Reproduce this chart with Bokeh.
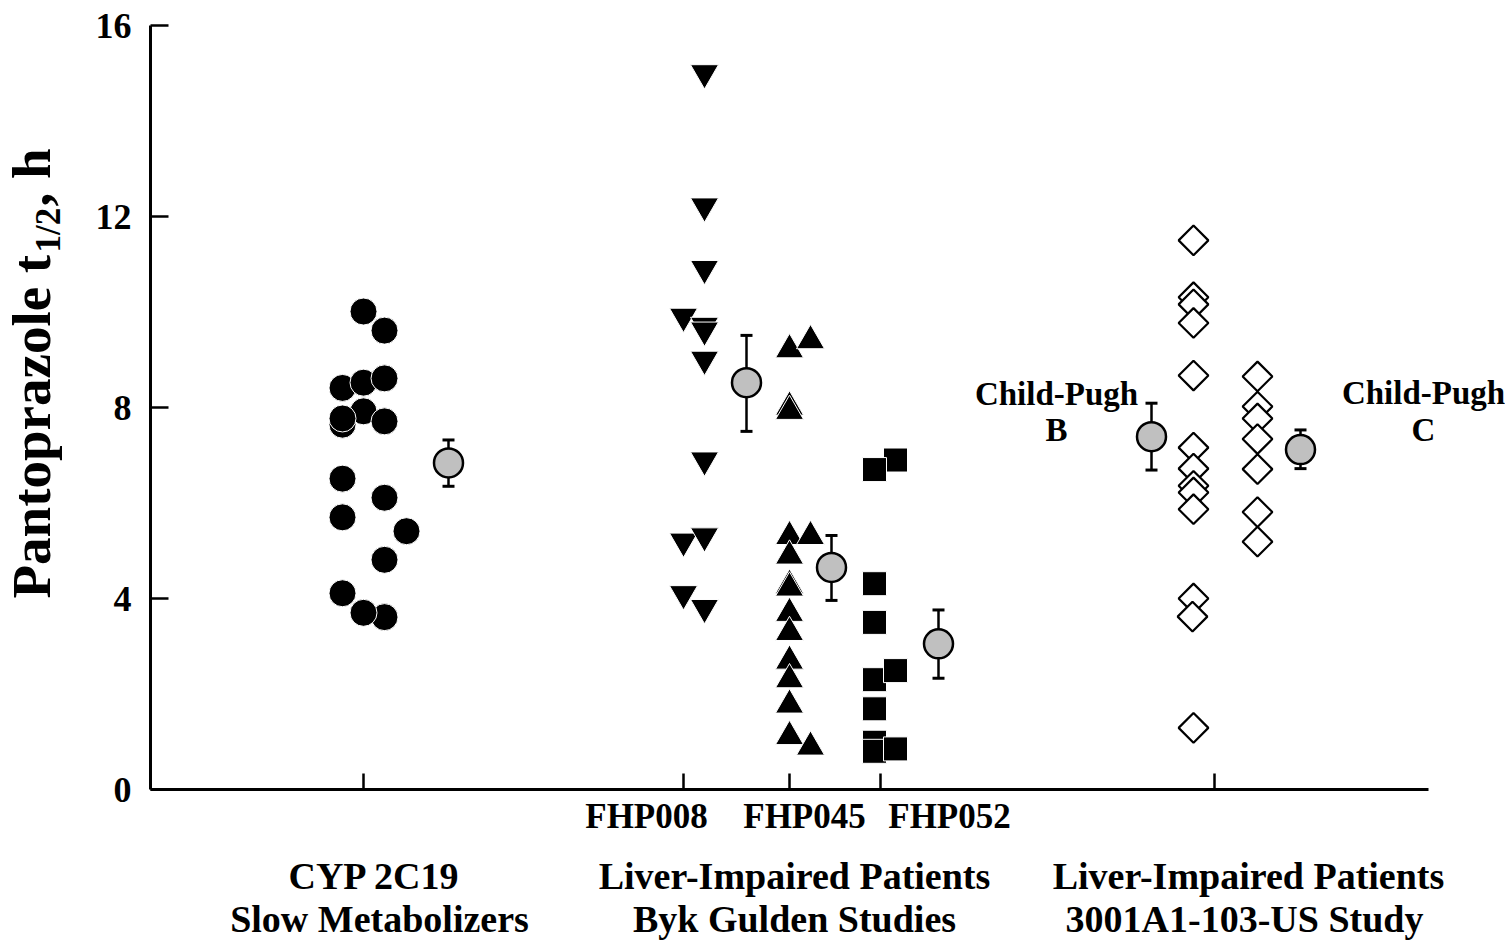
import numpy as np
from bokeh.plotting import figure
from bokeh.models import Range1d, FixedTicker, Label, LinearAxis
from bokeh.embed import file_html
from bokeh.resources import INLINE

FONT = "Liberation Serif"

# ---------------- data ----------------
y_ticks = [0, 4, 8, 12, 16]
group_ticks = [2.13, 5.33, 6.39, 7.30, 10.64]

# CYP 2C19 slow metabolizers (filled circles)
cyp_x = [2.13, 2.34, 1.92, 2.13, 2.34, 2.13, 1.92, 1.92, 2.34, 1.92, 2.34, 1.92, 2.56, 2.34, 1.92, 2.34, 2.13]
cyp_y = [10.01, 9.61, 8.41, 8.52, 8.61, 7.92, 7.64, 7.77, 7.71, 6.51, 6.11, 5.70, 5.41, 4.81, 4.11, 3.61, 3.70]

# FHP008 (filled down triangles)
fhp008_x = [5.54, 5.54, 5.54, 5.33, 5.54, 5.54, 5.54, 5.54, 5.33, 5.54, 5.33, 5.54]
fhp008_y = [15.01, 12.22, 10.91, 9.91, 9.72, 9.62, 9.01, 6.90, 5.20, 5.31, 4.10, 3.81]

# FHP045 (filled up triangles)
fhp045_x = [6.39, 6.60, 6.39, 6.39, 6.39, 6.60, 6.39, 6.39, 6.39, 6.39, 6.39, 6.39, 6.39, 6.39, 6.39, 6.60]
fhp045_y = [9.21, 9.40, 8.01, 7.92, 5.30, 5.30, 4.89, 4.28, 4.22, 3.69, 3.29, 2.69, 2.30, 1.77, 1.11, 0.89]

# FHP052 (filled squares)
fhp052_x = [7.45, 7.24, 7.24, 7.24, 7.24, 7.45, 7.24, 7.24, 7.24, 7.45]
fhp052_y = [6.90, 6.70, 4.31, 3.50, 2.30, 2.49, 1.69, 0.99, 0.80, 0.85]

# 3001A1-103-US, Child-Pugh B (open diamonds)
cpb_x = [10.43, 10.43, 10.43, 10.43, 10.43, 10.43, 10.43, 10.43, 10.43, 10.43, 10.43, 10.42, 10.43]
cpb_y = [11.50, 10.31, 10.16, 9.77, 8.67, 7.16, 6.72, 6.36, 6.22, 5.87, 4.00, 3.62, 1.29]

# 3001A1-103-US, Child-Pugh C (open diamonds)
cpc_x = [11.07, 11.07, 11.07, 11.07, 11.07, 11.07, 11.07]
cpc_y = [8.65, 8.02, 7.77, 7.34, 6.71, 5.81, 5.19]

# group means with error bars (grey circles)
mean_x = [2.98, 5.96, 6.81, 7.88, 10.01, 11.50]
mean_y = [6.84, 8.52, 4.65, 3.05, 7.39, 7.12]
mean_lo = [6.35, 7.50, 3.96, 2.33, 6.69, 6.72]
mean_hi = [7.32, 9.51, 5.32, 3.76, 8.09, 7.53]

fhp_labels = ["FHP008", "FHP045", "FHP052"]
cat_line1 = ["CYP 2C19", "Liver-Impaired Patients", "Liver-Impaired Patients"]
cat_line2 = ["Slow Metabolizers", "Byk Gulden Studies", "3001A1-103-US Study"]

# ---------------- figure ----------------
W, H = 1505, 940
PX_X = 100.0     # pixels per x unit
PX_Y = 47.75     # pixels per y unit
X0_PX, Y0_PX = 150, 789   # where the axes cross

p = figure(width=W, height=H, output_backend="svg", toolbar_location=None,
           x_axis_location=None, y_axis_location=None,
           x_range=Range1d(-X0_PX / PX_X, (W - X0_PX) / PX_X),
           y_range=Range1d((Y0_PX - H) / PX_Y, Y0_PX / PX_Y),
           min_border=0)
p.outline_line_color = None
p.grid.visible = False
p.background_fill_color = "white"
p.border_fill_color = "white"

yaxis = LinearAxis(fixed_location=0, bounds=(0, 16), ticker=FixedTicker(ticks=y_ticks),
                   axis_line_width=3, axis_line_color="black",
                   major_tick_in=18, major_tick_out=0, major_tick_line_width=2.5,
                   minor_tick_line_color=None, major_label_standoff=19,
                   major_label_text_font=FONT, major_label_text_font_style="bold",
                   major_label_text_font_size="36px", major_label_text_color="black")
p.add_layout(yaxis, "left")

xaxis = LinearAxis(fixed_location=0, bounds=(0, 12.78), ticker=FixedTicker(ticks=group_ticks),
                   major_label_overrides={t: "" for t in group_ticks},
                   axis_line_width=3, axis_line_color="black",
                   major_tick_in=16, major_tick_out=0, major_tick_line_width=2.5,
                   minor_tick_line_color=None, major_label_text_font_size="1px")
p.add_layout(xaxis, "below")

# points
p.scatter(cyp_x, cyp_y, marker="circle", size=27, fill_color="black", line_color="white", line_width=1)
p.scatter(fhp008_x, fhp008_y, marker="inverted_triangle", size=28, fill_color="black", line_color="white", line_width=1)
p.scatter(fhp045_x, fhp045_y, marker="triangle", size=28, fill_color="black", line_color="white", line_width=1)
p.scatter(fhp052_x, fhp052_y, marker="square", size=24, fill_color="black", line_color="white", line_width=1)
p.scatter(cpb_x, cpb_y, marker="square", angle=np.pi / 4, size=21, fill_color="white", line_color="black", line_width=2.2)
p.scatter(cpc_x, cpc_y, marker="square", angle=np.pi / 4, size=21, fill_color="white", line_color="black", line_width=2.2)

# means and error bars
p.segment(x0=mean_x, y0=mean_lo, x1=mean_x, y1=mean_hi, line_color="black", line_width=2.5)
p.scatter(mean_x, mean_lo, marker="dash", size=12, line_color="black", line_width=3)
p.scatter(mean_x, mean_hi, marker="dash", size=12, line_color="black", line_width=3)
p.scatter(mean_x, mean_y, marker="circle", size=29, fill_color="#c0c0c0", line_color="black", line_width=2.5)


def dx(px):
    return (px - X0_PX) / PX_X


def dy(py):
    return (Y0_PX - py) / PX_Y


BASE_FIX = 0.33  # Bokeh places the alphabetic baseline this many ems lower


def lab(px, py, text, size, align="center", vertical=False):
    fix = BASE_FIX * size
    if vertical:
        x, y, ang = dx(px - fix), dy(py), np.pi / 2
    else:
        x, y, ang = dx(px), dy(py - fix), 0.0
    p.add_layout(Label(x=x, y=y, text=text, text_font=FONT, text_font_style="bold",
                       text_font_size=f"{size}px", text_color="black", text_align=align,
                       text_baseline="alphabetic", angle=ang))


# FHP study labels (px, baseline py)
for px, t in zip([646, 804, 949], fhp_labels):
    lab(px, 828, t, 35)
# category labels
for px, t in zip([374, 794, 1248], cat_line1):
    lab(px, 888, t, 38)
for px, t in zip([379, 794, 1244], cat_line2):
    lab(px, 931, t, 38)

# Child-Pugh labels
lab(1056, 404, "Child-Pugh", 33)
lab(1056, 440, "B", 33)
lab(1423, 403, "Child-Pugh", 33)
lab(1423, 440, "C", 33)

# y axis title with subscript
lab(49, 598, "Pantoprazole t", 55, align="left", vertical=True)
lab(60, 252, "1/2", 35, align="left", vertical=True)
lab(49, 206, ", h", 55, align="left", vertical=True)

open("out.html", "w").write(file_html(p, INLINE))
